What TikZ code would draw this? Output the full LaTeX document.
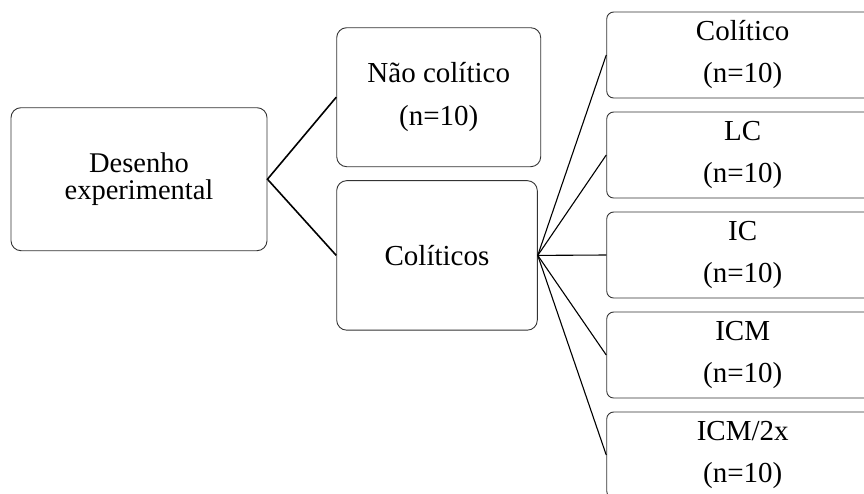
\documentclass[tikz,border=0pt]{standalone}
\usepackage{fontspec}
\setmainfont{Liberation Serif}
\begin{document}
\begin{tikzpicture}[x=1pt,y=-1pt,
  box/.style={draw=black!80, line width=0.9pt, rounded corners=10pt, inner sep=0pt, align=center, anchor=center},
  bigtxt/.style={font=\fontsize{29}{43}\selectfont},
  rbox/.style={box, rounded corners=7pt, minimum width=272pt, minimum height=86pt, font=\fontsize{29}{42}\selectfont},
  thick link/.style={line width=1.6pt, black},
  thin link/.style={line width=1.1pt, black}]
\useasboundingbox (0,0) rectangle (864,493);
\clip (0,0) rectangle (864,493);
\node[box, minimum width=256pt, minimum height=143pt, font=\fontsize{28.5}{27}\selectfont] (L) at (139,179.2) {Desenho\\experimental};
\node[box, bigtxt, minimum width=204pt, minimum height=139pt] (N) at (438.7,97.2) {Não colítico\\(n=10)};
\node[box, bigtxt, minimum width=200.6pt, minimum height=149.5pt] (C) at (437,255.4) {Colíticos};
\node[rbox] (R1) at (742.7,55) {Colítico\\(n=10)};
\node[rbox] (R2) at (742.7,155) {LC\\(n=10)};
\node[rbox] (R3) at (742.7,255) {IC\\(n=10)};
\node[rbox] (R4) at (742.7,355) {ICM\\(n=10)};
\node[rbox] (R5) at (742.7,455) {ICM/2x\\(n=10)};
\draw[thick link] (N.west) -- (L.east) -- (C.west);
\foreach \r in {R1,R2,R3,R4,R5}
  \draw[thin link] (C.east) -- (\r.west);
\end{tikzpicture}
\end{document}
